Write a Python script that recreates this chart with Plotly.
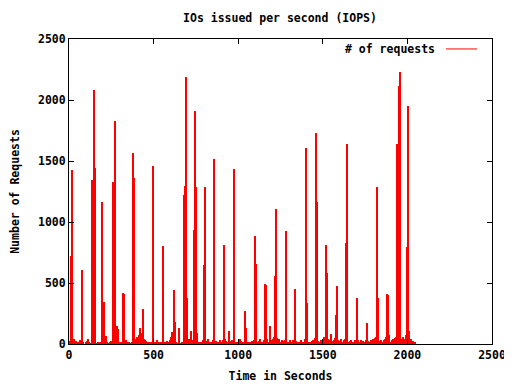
import plotly.graph_objects as go

# Number of requests per 6-second sample
requests = [
    20, 25, 719, 1430, 30, 45, 10, 25, 15, 5,
    20, 30, 15, 605, 10, 0, 0, 20, 25, 40,
    10, 5, 0, 1348, 1185, 2083, 1446, 5, 0, 15,
    20, 0, 10, 1160, 343, 0, 65, 20, 0, 5,
    10, 25, 15, 1332, 1136, 1830, 10, 147, 122, 20,
    15, 10, 15, 417, 408, 5, 30, 0, 10, 20,
    0, 5, 15, 1569, 1364, 40, 20, 60, 45, 70,
    130, 90, 55, 286, 40, 30, 25, 0, 10, 5,
    15, 20, 10, 1462, 20, 10, 5, 30, 15, 10,
    5, 20, 10, 801, 15, 20, 10, 25, 20, 30,
    60, 95, 25, 441, 180, 10, 5, 0, 130, 5,
    0, 10, 20, 1225, 1299, 2190, 376, 20, 45, 15,
    110, 30, 10, 931, 1912, 1283, 90, 20, 10, 5,
    20, 15, 30, 645, 1291, 10, 25, 40, 15, 10,
    20, 5, 30, 1520, 15, 25, 10, 20, 5, 30,
    15, 20, 35, 809, 40, 25, 20, 10, 110, 25,
    15, 30, 20, 1438, 10, 20, 5, 30, 40, 25,
    15, 20, 10, 270, 130, 20, 10, 5, 20, 10,
    25, 15, 30, 882, 654, 20, 10, 25, 40, 15,
    10, 20, 30, 490, 482, 45, 20, 15, 147, 30,
    10, 40, 60, 556, 1103, 50, 25, 40, 15, 20,
    30, 10, 25, 35, 923, 20, 15, 5, 30, 10,
    20, 30, 15, 449, 25, 10, 20, 5, 15, 30,
    20, 10, 40, 1609, 335, 15, 20, 10, 5, 25,
    30, 20, 50, 1732, 1160, 25, 10, 20, 30, 15,
    40, 55, 60, 809, 580, 45, 30, 20, 80, 25,
    15, 30, 50, 237, 474, 30, 10, 25, 40, 20,
    15, 30, 45, 825, 1642, 20, 5, 25, 30, 10,
    20, 15, 30, 25, 376, 35, 10, 20, 30, 15,
    25, 10, 20, 30, 172, 25, 15, 30, 20, 45,
    30, 50, 60, 1291, 376, 25, 10, 35, 20, 15,
    30, 45, 60, 408, 400, 75, 20, 15, 30, 40,
    25, 50, 60, 1642, 1462, 2116, 2230, 40, 20, 60,
    30, 45, 70, 793, 1953, 110, 30, 40, 15, 25,
    20, 10,
]
sample_step = 6
seconds = [sample_step * i for i in range(len(requests))]

x_ticks = [0, 500, 1000, 1500, 2000, 2500]
y_ticks = [0, 500, 1000, 1500, 2000, 2500]

series_name = "# of requests"
title_text = "IOs issued per second (IOPS)"
x_title = "Time in Seconds"
y_title = "Number of Requests"

FONT = dict(family="DejaVu Sans Mono", size=11.5, color="black", weight="bold")

# page has an 8px body margin; figure sized so the plot area lands where the reference has it
W, H = 504, 376
fig = go.Figure()
fig.add_trace(go.Bar(
    x=seconds, y=requests, width=sample_step,
    marker=dict(color="#ff0000", line=dict(width=0)),
    name=series_name, showlegend=False,
))

fig.update_layout(
    width=W, height=H,
    margin=dict(l=61, r=20, t=31, b=40),
    paper_bgcolor="white", plot_bgcolor="white",
    font=FONT,
    bargap=0,
    title=dict(text=title_text, x=(280 - 8) / W, xanchor="center",
               y=1 - (18 - 8) / H, yanchor="middle", yref="container", font=FONT),
    xaxis=dict(range=[0, 2500], tickvals=x_ticks, ticks="inside", ticklen=5,
               tickcolor="black", showline=True, linecolor="black", linewidth=1,
               mirror="ticks", showgrid=False, zeroline=False, automargin=False,
               title=dict(text=x_title, standoff=11, font=FONT), tickfont=FONT),
    yaxis=dict(range=[0, 2500], tickvals=y_ticks, ticks="inside", ticklen=5,
               tickcolor="black", showline=True, linecolor="black", linewidth=1,
               mirror="ticks", showgrid=False, zeroline=False, automargin=False,
               title=dict(text=y_title, standoff=15, font=FONT), tickfont=FONT),
)

# gnuplot-style key: text on the left, line sample on the right
fig.add_annotation(text=series_name, xref="paper", yref="paper",
                   x=(437 - 69) / 423, y=1 - 10 / 306, xanchor="right",
                   yanchor="middle", showarrow=False, font=FONT)
fig.add_shape(type="line", xref="paper", yref="paper",
              x0=(446 - 69) / 423, x1=(477 - 69) / 423,
              y0=1 - 10 / 306, y1=1 - 10 / 306,
              line=dict(color="#ff0000", width=1))

fig.write_html("out.html")
